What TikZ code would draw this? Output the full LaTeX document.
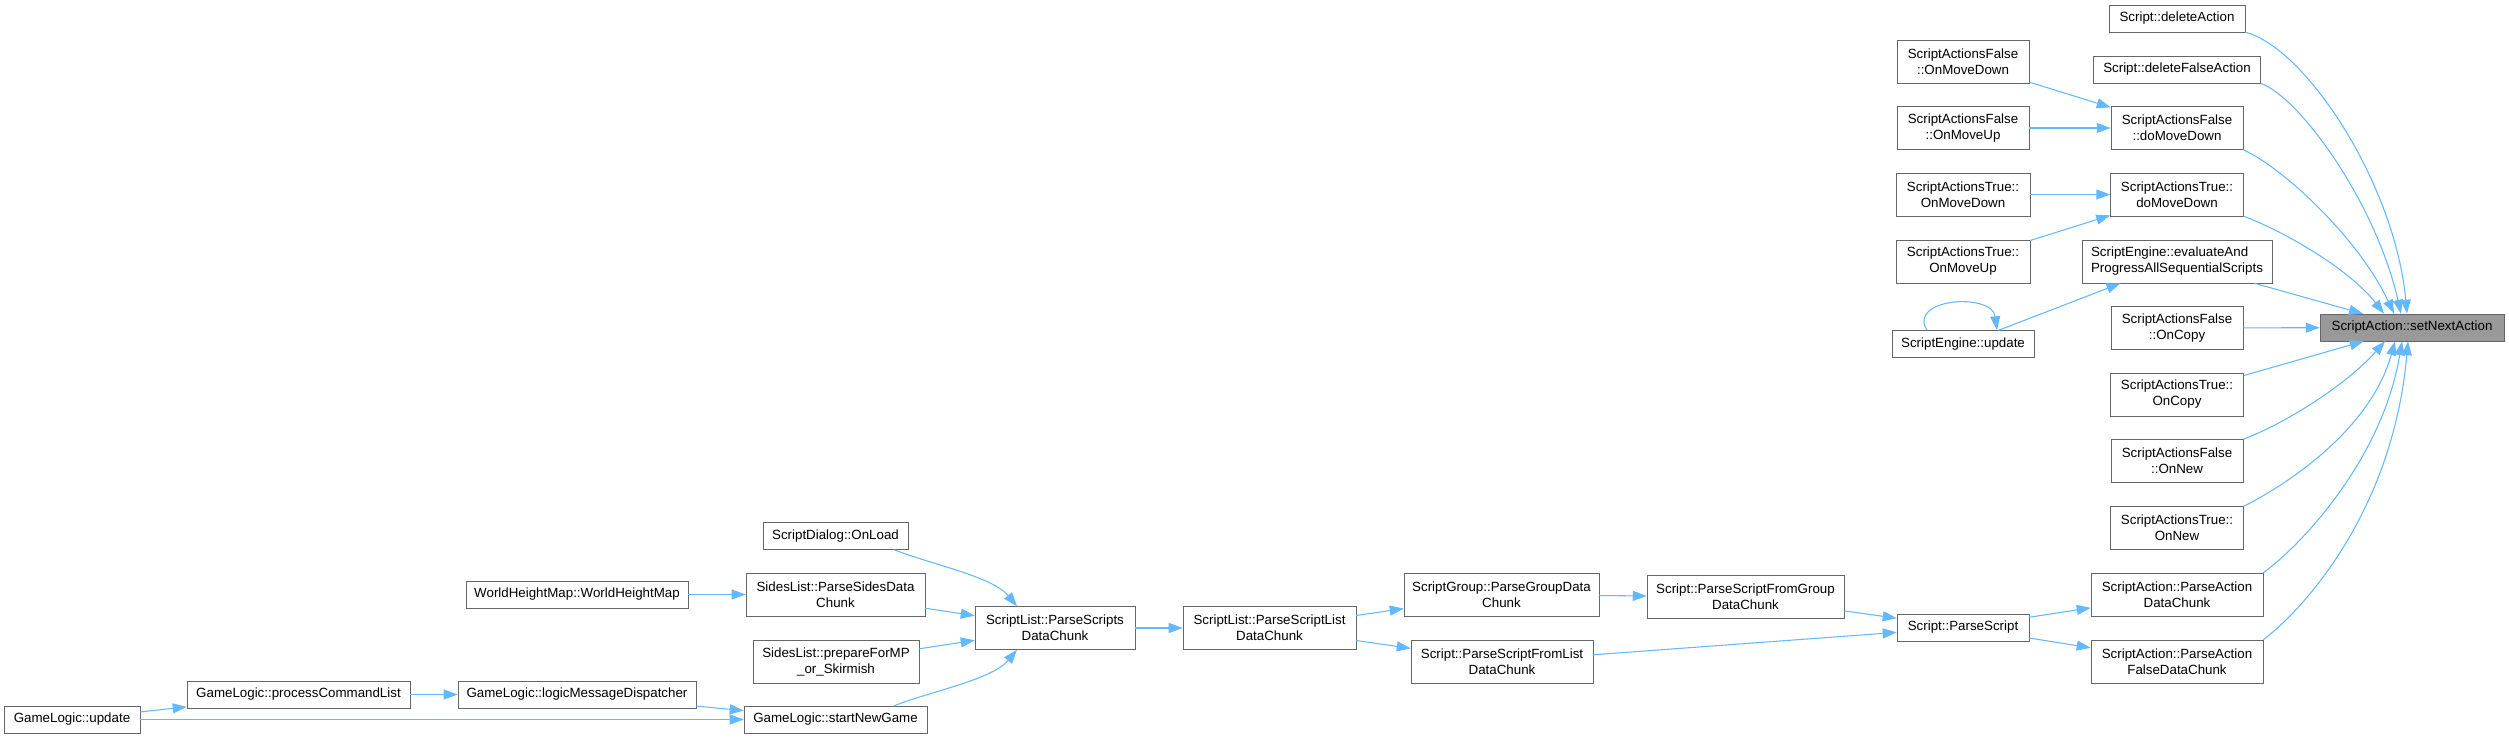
\documentclass[tikz,border=0pt]{standalone}
\usepackage{fontspec}
\setmainfont{Liberation Sans}
\usetikzlibrary{arrows.meta,calc}
\definecolor{edgeblue}{HTML}{63B8FF}
\definecolor{boxgrey}{HTML}{666666}
\definecolor{curgrey}{HTML}{999999}

\begin{document}
\begin{tikzpicture}[x=0.75pt,y=-0.75pt,
box/.style={draw=boxgrey,fill=white,align=center,inner sep=1pt,minimum height=20.25pt,font=\fontsize{10}{12}\selectfont},
tall/.style={box,minimum height=32.25pt},
wd/.style={minimum width=#1*0.75pt},
arrow/.style={draw=edgeblue,line width=0.8pt,-{Triangle[length=10.5pt,width=7.5pt]}}]
\useasboundingbox (0,0) rectangle (2509,739);
\node[box,wd=184,fill=curgrey](sna) at (2412,327.5){ScriptAction::setNextAction};
\node[box,wd=136](da) at (2177,18.5){Script::deleteAction};
\node[box,wd=167](dfa) at (2177,69.5){Script::deleteFalseAction};
\node[tall,wd=132](fdmd) at (2177,128){ScriptActionsFalse\\::doMoveDown};
\node[tall,wd=133](tdmd) at (2177,194.5){ScriptActionsTrue::\\doMoveDown};
\node[tall,wd=190,align=left](eval) at (2177,261.5){ScriptEngine::evaluateAnd\\ProgressAllSequentialScripts};
\node[tall,wd=132](fcopy) at (2177,328){ScriptActionsFalse\\::OnCopy};
\node[tall,wd=133](tcopy) at (2177,394.5){ScriptActionsTrue::\\OnCopy};
\node[tall,wd=132](fnew) at (2177,461){ScriptActionsFalse\\::OnNew};
\node[tall,wd=133](tnew) at (2177,528){ScriptActionsTrue::\\OnNew};
\node[tall,wd=172](padc) at (2177,594.5){ScriptAction::ParseAction\\DataChunk};
\node[tall,wd=172](pafdc) at (2177,661.5){ScriptAction::ParseAction\\FalseDataChunk};
\node[tall,wd=132](fomd) at (1963,61.5){ScriptActionsFalse\\::OnMoveDown};
\node[tall,wd=132](fomu) at (1963,128){ScriptActionsFalse\\::OnMoveUp};
\node[tall,wd=134](tomd) at (1963,194.5){ScriptActionsTrue::\\OnMoveDown};
\node[tall,wd=134](tomu) at (1963,261.5){ScriptActionsTrue::\\OnMoveUp};
\node[box,wd=142](seu) at (1963,344){ScriptEngine::update};
\node[box,wd=132](ps) at (1963,627.5){Script::ParseScript};
\node[tall,wd=197](psfg) at (1745.5,597){Script::ParseScriptFromGroup\\DataChunk};
\node[tall,wd=182](psfl) at (1502,661.5){Script::ParseScriptFromList\\DataChunk};
\node[tall,wd=195](sgp) at (1501.5,594.5){ScriptGroup::ParseGroupData\\Chunk};
\node[tall,wd=173](slpl) at (1269.5,628){ScriptList::ParseScriptList\\DataChunk};
\node[tall,wd=160](slps) at (1055,628){ScriptList::ParseScripts\\DataChunk};
\node[box,wd=145](sdol) at (835.5,536){ScriptDialog::OnLoad};
\node[tall,wd=179](sips) at (835.5,594.5){SidesList::ParseSidesData\\Chunk};
\node[tall,wd=166](sipm) at (836,661.5){SidesList::prepareForMP\\\_or\_Skirmish};
\node[box,wd=183](glsg) at (835.5,719.5){GameLogic::startNewGame};
\node[box,wd=222](whm) at (577,594.5){WorldHeightMap::WorldHeightMap};
\node[box,wd=223](glpc) at (298.5,694.5){GameLogic::processCommandList};
\node[box,wd=238](glmd) at (577,694.5){GameLogic::logicMessageDispatcher};
\node[box,wd=136](glu) at (72,719.5){GameLogic::update};
\draw[arrow](da.south east)..controls +(60,15) and +(-12,-130)..($(sna.north)+(-5,0)$);
\draw[arrow](dfa.south east)..controls +(40,15) and +(-25,-110)..($(sna.north)+(-11,0)$);
\draw[arrow](fdmd.south east)..controls +(40,18) and +(-35,-75)..($(sna.north)+(-18,0)$);
\draw[arrow](tdmd.south east)..controls +(40,15) and +(-35,-45)..($(sna.north)+(-28,0)$);
\draw[arrow](eval)--(sna);\draw[arrow](fcopy)--(sna);\draw[arrow](tcopy)--(sna);
\draw[arrow](fnew.north east)..controls +(40,-15) and +(-40,45)..($(sna.south)+(-27,0)$);
\draw[arrow](tnew.north east)..controls +(40,-20) and +(-25,90)..($(sna.south)+(-17,0)$);
\draw[arrow](padc.north east)..controls +(35,-25) and +(-20,120)..($(sna.south)+(-10,0)$);
\draw[arrow](pafdc.north east)..controls +(40,-30) and +(-15,170)..($(sna.south)+(-4,0)$);
\draw[arrow](fomd)--(fdmd);\draw[arrow](fomu)--(fdmd);
\draw[arrow](tomd)--(tdmd);\draw[arrow](tomu)--(tdmd);
\draw[arrow](seu)--(eval);
\draw[arrow]($(seu.north)+(-36,0)$)..controls +(-20,-32) and +(-5,-38)..($(seu.north)+(34,0)$);
\draw[arrow](ps)--(padc);\draw[arrow](ps)--(pafdc);
\draw[arrow](psfg)--(ps);\draw[arrow](psfl)--(ps);
\draw[arrow](sgp)--(psfg);
\draw[arrow](slpl)--(sgp);\draw[arrow](slpl)--(psfl);
\draw[arrow](slps)--(slpl);
\draw[arrow]($(sdol.south east)+(-14,0)$)..controls +(35,14) and +(-25,-30)..($(slps.north)+(-38,0)$);
\draw[arrow](sips)--(slps);\draw[arrow](sipm)--(slps);
\draw[arrow]($(glsg.north east)+(-33,0)$)..controls +(35,-14) and +(-25,30)..($(slps.south)+(-38,0)$);
\draw[arrow](whm)--(sips);
\draw[arrow](glmd)--(glsg);
\draw[arrow](glpc)--(glmd);
\draw[arrow](glu)--(glpc);\draw[arrow](glu)--(glsg);
\end{tikzpicture}
\end{document}
